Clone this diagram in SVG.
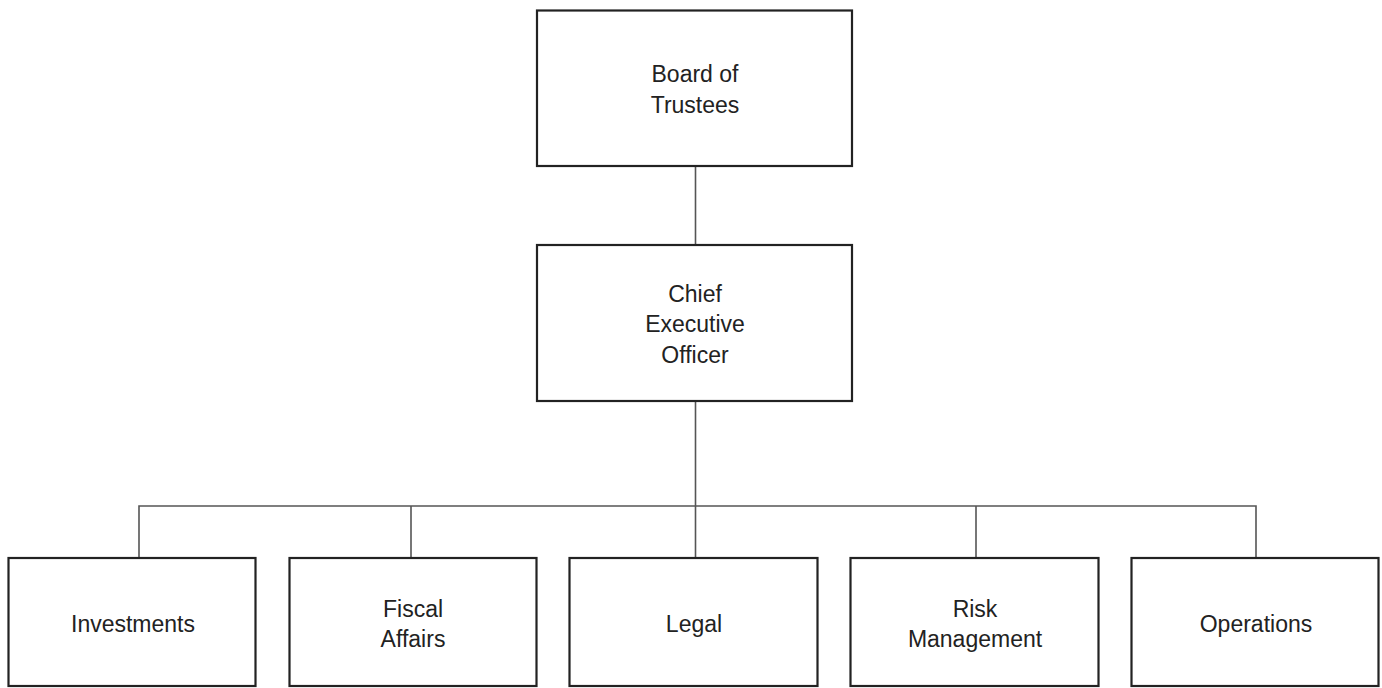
<svg xmlns="http://www.w3.org/2000/svg" width="1382" height="688" viewBox="0 0 1382 688">
<style>
.box{fill:#fff;stroke:#222;stroke-width:2.2}
.lbl{font-family:"Liberation Sans",Arial,sans-serif;font-size:23px;fill:#222;text-anchor:middle}
.conn{stroke:#555;stroke-width:1.6;fill:none}
</style>
<rect width="1382" height="688" fill="#fff"/>
<g id="connectors">
<line class="conn" x1="695.5" y1="166" x2="695.5" y2="245"/>
<line class="conn" x1="695.5" y1="401" x2="695.5" y2="506"/>
<polyline class="conn" points="139,558 139,506 1256,506 1256,558"/>
<line class="conn" x1="411" y1="506" x2="411" y2="558"/>
<line class="conn" x1="695.5" y1="506" x2="695.5" y2="558"/>
<line class="conn" x1="976" y1="506" x2="976" y2="558"/>
</g>
<g id="board">
<rect class="box" x="537" y="10.5" width="315" height="155.5"/>
<text class="lbl" x="695" y="82">Board of</text>
<text class="lbl" x="695" y="113">Trustees</text>
</g>
<g id="ceo">
<rect class="box" x="537" y="245" width="315" height="156"/>
<text class="lbl" x="695" y="302">Chief</text>
<text class="lbl" x="695" y="332">Executive</text>
<text class="lbl" x="695" y="363">Officer</text>
</g>
<g id="investments">
<rect class="box" x="8.5" y="558" width="247" height="128"/>
<text class="lbl" x="133" y="632">Investments</text>
</g>
<g id="fiscal">
<rect class="box" x="289.5" y="558" width="247" height="128"/>
<text class="lbl" x="413" y="617">Fiscal</text>
<text class="lbl" x="413" y="647">Affairs</text>
</g>
<g id="legal">
<rect class="box" x="569.5" y="558" width="248" height="128"/>
<text class="lbl" x="694" y="632">Legal</text>
</g>
<g id="risk">
<rect class="box" x="850.5" y="558" width="248" height="128"/>
<text class="lbl" x="975" y="617">Risk</text>
<text class="lbl" x="975" y="647">Management</text>
</g>
<g id="operations">
<rect class="box" x="1131.5" y="558" width="247" height="128"/>
<text class="lbl" x="1256" y="632">Operations</text>
</g>
</svg>
